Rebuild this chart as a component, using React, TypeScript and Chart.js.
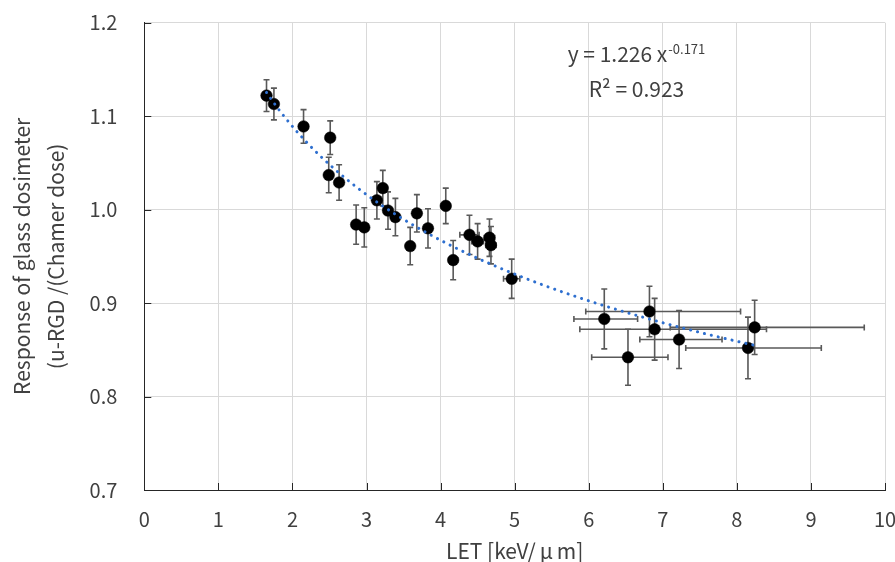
import React, { useEffect, useRef } from 'react';
import { Chart, registerables } from 'chart.js';

Chart.register(...registerables);

// ---- data ----
const LET = [1.65, 1.75, 2.15, 2.51, 2.49, 2.63, 2.86, 2.97, 3.14, 3.22, 3.29, 3.39, 3.59, 3.68, 3.83, 4.07, 4.17, 4.39, 4.50, 4.66, 4.68, 4.96, 6.21, 6.82, 6.89, 6.53, 7.22, 8.15, 8.24];
const RESPONSE = [1.122, 1.113, 1.089, 1.077, 1.037, 1.029, 0.984, 0.981, 1.010, 1.023, 0.999, 0.992, 0.961, 0.996, 0.980, 1.004, 0.946, 0.973, 0.966, 0.970, 0.962, 0.926, 0.883, 0.891, 0.872, 0.842, 0.861, 0.852, 0.874];
const RESPONSE_ERR = [0.017, 0.017, 0.018, 0.018, 0.019, 0.019, 0.021, 0.021, 0.020, 0.019, 0.020, 0.020, 0.020, 0.020, 0.021, 0.019, 0.021, 0.021, 0.019, 0.020, 0.020, 0.021, 0.032, 0.027, 0.033, 0.030, 0.031, 0.033, 0.029];
const LET_ERR_MINUS = [0.05, 0.05, 0.05, 0.05, 0.05, 0.05, 0.05, 0.05, 0.05, 0.05, 0.05, 0.05, 0.05, 0.05, 0.05, 0.06, 0.06, 0.13, 0.08, 0.07, 0.07, 0.11, 0.41, 0.86, 1.01, 0.49, 0.53, 0.84, 1.14];
const LET_ERR_PLUS = [0.05, 0.05, 0.05, 0.05, 0.05, 0.05, 0.05, 0.05, 0.05, 0.05, 0.05, 0.05, 0.05, 0.05, 0.05, 0.06, 0.06, 0.13, 0.08, 0.07, 0.07, 0.11, 0.45, 1.23, 1.51, 0.54, 0.58, 0.99, 1.48];

// power trendline shown in the chart: y = a * x^b
const TREND_A = 1.226;
const TREND_B = -0.171;
const TREND_R2 = 0.923;
const TREND_X_RANGE = [1.65, 8.24];

const X_MIN = 0, X_MAX = 10, X_STEP = 1;
const Y_MIN = 0.7, Y_MAX = 1.2, Y_STEP = 0.1;

// x title "LET [keV/μm]" (μ is set full-width, as in the reference)
const X_TITLE_PARTS = ['LET [keV/', 'μ', 'm]'];
const Y_TITLE = ['Response of glass dosimeter', '(u-RGD /(Chamer dose)'];

const FONT = "'Noto Sans CJK JP', 'Noto Sans', sans-serif";
const TEXT_COLOR = '#404040';

function trendPoints() {
  const pts: { x: number; y: number }[] = [];
  const n = 80;
  for (let i = 0; i <= n; i++) {
    const x = TREND_X_RANGE[0] + ((TREND_X_RANGE[1] - TREND_X_RANGE[0]) * i) / n;
    pts.push({ x, y: TREND_A * Math.pow(x, TREND_B) });
  }
  return pts;
}

const errorBarPlugin = {
  id: 'errorBars',
  beforeDatasetsDraw(chart: any) {
    const { ctx, scales } = chart;
    const xs = scales.x, ys = scales.y;
    ctx.save();
    ctx.strokeStyle = '#595959';
    ctx.lineWidth = 1.6;
    const cap = 3;
    for (let i = 0; i < LET.length; i++) {
      const px = xs.getPixelForValue(LET[i]);
      const py = ys.getPixelForValue(RESPONSE[i]);
      const yt = ys.getPixelForValue(RESPONSE[i] + RESPONSE_ERR[i]);
      const yb = ys.getPixelForValue(RESPONSE[i] - RESPONSE_ERR[i]);
      const xl = xs.getPixelForValue(LET[i] - LET_ERR_MINUS[i]);
      const xr = xs.getPixelForValue(LET[i] + LET_ERR_PLUS[i]);
      ctx.beginPath();
      ctx.moveTo(px, yt); ctx.lineTo(px, yb);
      ctx.moveTo(px - cap, yt); ctx.lineTo(px + cap, yt);
      ctx.moveTo(px - cap, yb); ctx.lineTo(px + cap, yb);
      ctx.moveTo(xl, py); ctx.lineTo(xr, py);
      ctx.moveTo(xl, py - cap); ctx.lineTo(xl, py + cap);
      ctx.moveTo(xr, py - cap); ctx.lineTo(xr, py + cap);
      ctx.stroke();
    }
    // inside tick marks
    const area = chart.chartArea;
    ctx.strokeStyle = '#262626';
    ctx.lineWidth = 1;
    const tl = 7;
    ctx.beginPath();
    xs.ticks.forEach((_t: any, i: number) => {
      const p = Math.round(xs.getPixelForTick(i)) + 0.5;
      ctx.moveTo(p, area.bottom); ctx.lineTo(p, area.bottom - tl);
    });
    ys.ticks.forEach((_t: any, i: number) => {
      const p = Math.round(ys.getPixelForTick(i)) + 0.5;
      ctx.moveTo(area.left, p); ctx.lineTo(area.left + tl, p);
    });
    ctx.stroke();
    ctx.restore();
  },
};

const textPlugin = {
  id: 'texts',
  afterDatasetsDraw(chart: any) {
    const { ctx, scales, chartArea } = chart;
    const cx = scales.x.getPixelForValue(6.645);
    const b1 = scales.y.getPixelForValue(1.158);
    const b2 = scales.y.getPixelForValue(1.121);
    ctx.save();
    ctx.fillStyle = TEXT_COLOR;
    ctx.textBaseline = 'alphabetic';
    ctx.textAlign = 'left';
    const main = `y = ${TREND_A.toFixed(3)} x`;
    const sup = `${TREND_B.toFixed(3)}`;
    ctx.font = `21px ${FONT}`;
    const wMain = ctx.measureText(main).width;
    ctx.font = `13px ${FONT}`;
    const wSup = ctx.measureText(sup).width;
    const start = cx - (wMain + wSup + 1) / 2;
    ctx.font = `21px ${FONT}`;
    ctx.fillText(main, start, b1);
    ctx.font = `13px ${FONT}`;
    ctx.fillText(sup, start + wMain + 1, b1 - 8);
    ctx.font = `21px ${FONT}`;
    ctx.textAlign = 'center';
    ctx.fillText(`R² = ${TREND_R2.toFixed(3)}`, cx, b2);

    // x axis title with a full-width μ
    ctx.textAlign = 'left';
    ctx.font = `21px ${FONT}`;
    const fw = 21;
    const w0 = ctx.measureText(X_TITLE_PARTS[0]).width;
    const w2 = ctx.measureText(X_TITLE_PARTS[2]).width;
    const wMu = ctx.measureText(X_TITLE_PARTS[1]).width;
    const total = w0 + fw + w2;
    const tcx = (chartArea.left + chartArea.right) / 2;
    const tb = 559;
    let x0 = tcx - total / 2;
    ctx.fillText(X_TITLE_PARTS[0], x0, tb);
    ctx.fillText(X_TITLE_PARTS[1], x0 + w0 + (fw - wMu) / 2, tb);
    ctx.fillText(X_TITLE_PARTS[2], x0 + w0 + fw, tb);
    ctx.restore();
  },
};

export default function App() {
  const ref = useRef<HTMLCanvasElement | null>(null);
  useEffect(() => {
    if (!ref.current) return;
    const chart = new Chart(ref.current, {
      type: 'scatter',
      data: {
        datasets: [
          {
            label: 'trend',
            type: 'line',
            data: trendPoints(),
            borderColor: '#2E6FCF',
            borderWidth: 3,
            borderDash: [0.1, 7],
            borderCapStyle: 'round',
            pointRadius: 0,
            fill: false,
            tension: 0,
            order: 0,
          } as any,
          {
            label: 'data',
            data: LET.map((x, i) => ({ x, y: RESPONSE[i] })),
            backgroundColor: '#000',
            borderColor: '#000',
            borderWidth: 0.5,
            pointRadius: 5.8,
            order: 1,
          },
        ],
      },
      options: {
        animation: false,
        responsive: false,
        events: [],
        layout: { padding: { left: 0, top: 22.7, right: 10, bottom: 0 } },
        plugins: { legend: { display: false }, tooltip: { enabled: false } },
        scales: {
          x: {
            type: 'linear',
            min: X_MIN,
            max: X_MAX,
            grid: { color: '#d9d9d9', lineWidth: 1, drawTicks: false },
            border: { display: true, color: '#262626', width: 1 },
            ticks: {
              stepSize: X_STEP,
              padding: 17,
              color: TEXT_COLOR,
              font: { family: FONT, size: 20 },
              callback: (v: any) => String(v),
              maxRotation: 0,
            },
            title: { display: false },
            afterFit: (s: any) => {
              s.height = 72;
              s.paddingLeft = 0; s.paddingRight = 0;
            },
          },
          y: {
            type: 'linear',
            min: Y_MIN,
            max: Y_MAX,
            grid: { color: '#d9d9d9', lineWidth: 1, drawTicks: false },
            border: { display: true, color: '#262626', width: 1 },
            ticks: {
              stepSize: Y_STEP,
              padding: 27,
              color: TEXT_COLOR,
              font: { family: FONT, size: 20 },
              callback: (v: any) => Number(v).toFixed(1),
            },
            title: {
              display: true,
              text: Y_TITLE,
              color: TEXT_COLOR,
              font: { family: FONT, size: 21, lineHeight: 1.62 },
              padding: { top: 5, bottom: 0 },
            },
            afterFit: (s: any) => {
              s.width = 144.3;
              s.paddingTop = 0; s.paddingBottom = 0;
            },
          },
        },
      },
      plugins: [errorBarPlugin, textPlugin],
    });
    return () => chart.destroy();
  }, []);
  return (
    <div style={{ position: 'absolute', left: 0, top: 0, width: 895, height: 562, background: '#fff' }}>
      <canvas ref={ref} width={895} height={562} style={{ width: 895, height: 562, display: 'block' }} />
    </div>
  );
}
